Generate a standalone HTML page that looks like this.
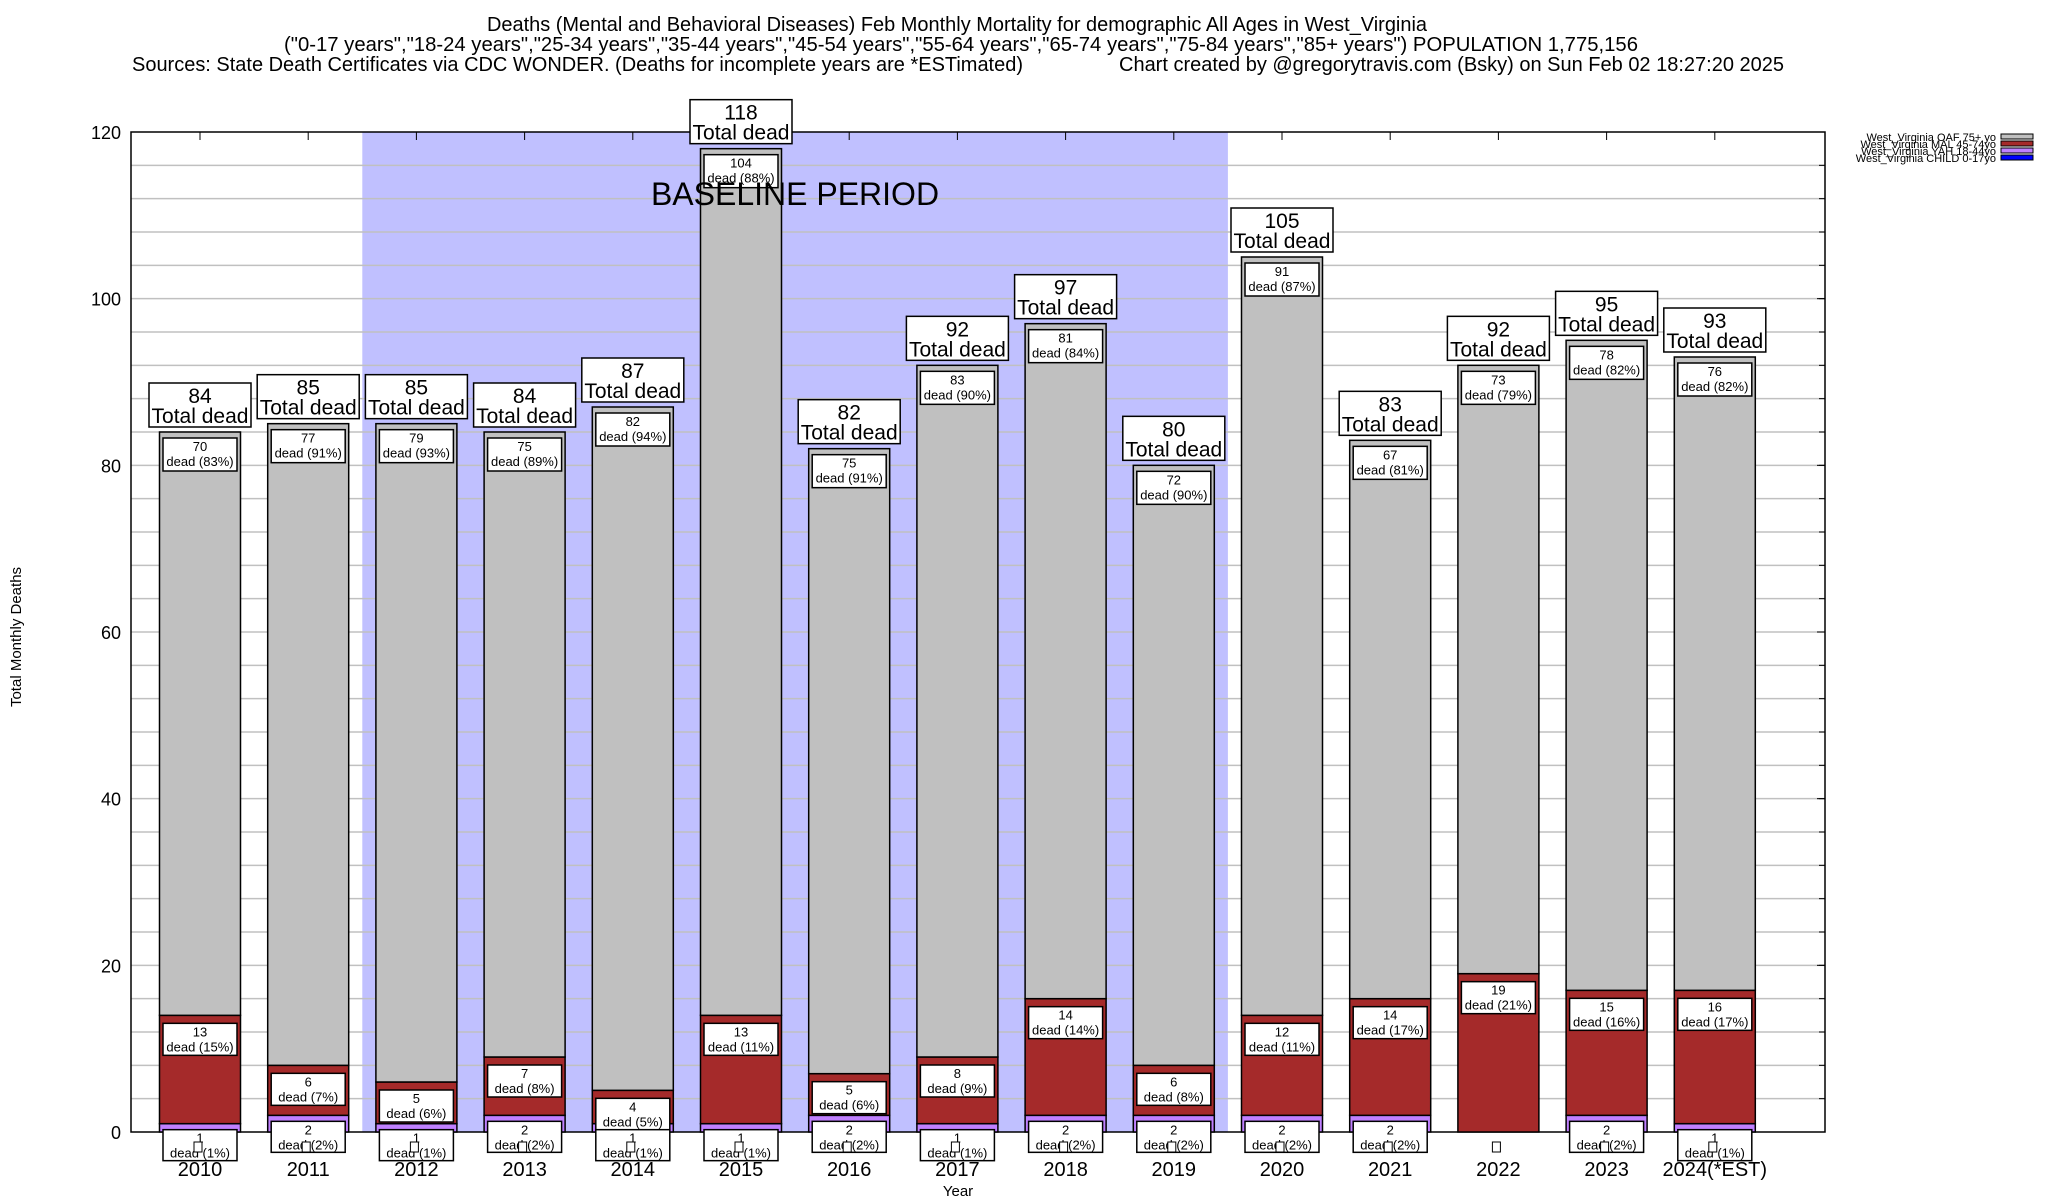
<!DOCTYPE html>
<html><head><meta charset="utf-8"><style>
html,body{margin:0;padding:0;background:#fff;}
svg{display:block;font-family:"Liberation Sans",sans-serif;}
</style></head><body>
<svg id="chart" width="2048" height="1200" viewBox="0 0 2048 1200" xmlns="http://www.w3.org/2000/svg">
<g font-size="20" text-anchor="middle">
<text x="957" y="31" textLength="940" lengthAdjust="spacingAndGlyphs">Deaths (Mental and Behavioral Diseases) Feb Monthly Mortality for demographic All Ages in West_Virginia</text>
<text x="961" y="51" textLength="1354" lengthAdjust="spacingAndGlyphs">("0-17 years","18-24 years","25-34 years","35-44 years","45-54 years","55-64 years","65-74 years","75-84 years","85+ years") POPULATION 1,775,156</text>
<text x="132" y="71" text-anchor="start" textLength="891" lengthAdjust="spacingAndGlyphs">Sources: State Death Certificates via CDC WONDER. (Deaths for incomplete years are *ESTimated)</text>
<text x="1119" y="71" text-anchor="start" textLength="665" lengthAdjust="spacingAndGlyphs">Chart created by @gregorytravis.com (Bsky) on Sun Feb 02 18:27:20 2025</text>
</g>
<g id="plot"></g>
<text transform="translate(21,637) rotate(-90)" font-size="15" text-anchor="middle">Total Monthly Deaths</text>
<text x="958" y="1196" font-size="15" text-anchor="middle">Year</text>
<g font-size="11" text-anchor="end">
<g><text x="1996" y="141">West_Virginia OAF 75+ yo</text><rect x="2001" y="134" width="32" height="5" fill="#c0c0c0" stroke="#000"/></g>
<g><text x="1996" y="148">West_Virginia MAL 45-74yo</text><rect x="2001" y="141" width="32" height="5" fill="#a52a2a" stroke="#000"/></g>
<g><text x="1996" y="155">West_Virginia YAH 18-44yo</text><rect x="2001" y="148" width="32" height="5" fill="#c080ff" stroke="#000"/></g>
<g><text x="1996" y="162">West_Virginia CHILD 0-17yo</text><rect x="2001" y="155" width="32" height="5" fill="#0000ff" stroke="#000"/></g>
</g>
</svg>
<script>
const years = ["2010","2011","2012","2013","2014","2015","2016","2017","2018","2019","2020","2021","2022","2023","2024(*EST)"];
const childVals = [0,0,0,0,0,0,0,0,0,0,0,0,0,0,0];
const yahVals = [1,2,1,2,1,1,2,1,2,2,2,2,0,2,1];
const malVals = [13,6,5,7,4,13,5,8,14,6,12,14,19,15,16];
const oafVals = [70,77,79,75,82,104,75,83,81,72,91,67,73,78,76];
const yTicks = [0,20,40,60,80,100,120];
const baselineRange = [1,9];

const NS="http://www.w3.org/2000/svg";
const g=document.getElementById('plot');
const L=131,R=1825,T=132,B=1132;
const yMax=120;
const y=v=>B-(v/yMax)*(B-T);
const step=108.2, x0=200;
const x=i=>x0+i*step;
const bw=81;
function el(tag,attrs,parent){const e=document.createElementNS(NS,tag);for(const k in attrs)e.setAttribute(k,attrs[k]);(parent||g).appendChild(e);return e;}
function txt(s,attrs,parent){const e=el('text',attrs,parent);e.textContent=s;return e;}
function roundEven(v){const f=Math.floor(v);const d=v-f;if(Math.abs(d-0.5)<1e-9)return (f%2===0)?f:f+1;return Math.round(v);}

const bs=el('rect',{x:x(baselineRange[0])+step/2,y:T,width:(baselineRange[1]-baselineRange[0])*step,height:B-T,fill:'#c0c0ff'});


for(let v=4;v<yMax;v+=4){
  const ln=el('line',{x1:L,x2:R,y1:y(v),y2:y(v),stroke:'#c0c0c0','stroke-width':1.5});
  
  
}
const fr=el('rect',{x:L,y:T,width:R-L,height:B-T,fill:'none',stroke:'#000','stroke-width':1.5});


yTicks.forEach(v=>{
  const t=txt(String(v),{x:L-10,y:y(v)+7,'font-size':18,'text-anchor':'end'});
  
  
  el('line',{x1:R-8,x2:R,y1:y(v),y2:y(v),stroke:'#000'});
});
for(let v=4;v<yMax;v+=4) el('line',{x1:R-6,x2:R,y1:y(v),y2:y(v),stroke:'#000'});

function labelBox(cx,top,w,h,lines,fs,gap,first,name){
  const gg=el('g',{});
  
  
  el('rect',{x:cx-w/2,y:top,width:w,height:h,fill:'#fff',stroke:'#000','stroke-width':1.5},gg);
  lines.forEach((s,k)=>txt(s,{x:cx,y:top+first+k*gap,'font-size':fs,'text-anchor':'middle'},gg));
}

years.forEach((yr,i)=>{
  const cx=x(i);
  el('line',{x1:cx,x2:cx,y1:T,y2:T+8,stroke:'#000'});
  const segs=[[childVals[i],'#0000ff','child'],[yahVals[i],'#c080ff','yah'],[malVals[i],'#a52a2a','mal'],[oafVals[i],'#c0c0c0','oaf']];
  let base=0;
  const total=childVals[i]+yahVals[i]+malVals[i]+oafVals[i];
  segs.forEach(([v,c,n])=>{
    if(v>0){
      const r=el('rect',{x:cx-bw/2,y:y(base+v),width:bw,height:y(base)-y(base+v),fill:c,stroke:'#000','stroke-width':1.5});
      
      
    }
    base+=v;
  });
  const top=y(total);
  const pct=v=>roundEven(v/total*100);
  labelBox(cx,top-49,102,44,[String(total),'Total dead'],21,20,20,'total-label-'+yr.slice(0,4));
  labelBox(cx,top+6,74,33,[String(oafVals[i]),'dead ('+pct(oafVals[i])+'%)'],13,15,13,'oaf-label-'+yr.slice(0,4));
  const malTop=y(childVals[i]+yahVals[i]+malVals[i]);
  labelBox(cx,malTop+8,74,32,[String(malVals[i]),'dead ('+pct(malVals[i])+'%)'],13,15,13,'mal-label-'+yr.slice(0,4));
  if(yahVals[i]>0){
    const yahTop=y(childVals[i]+yahVals[i]);
    labelBox(cx,yahTop+6,74,31,[String(yahVals[i]),'dead ('+pct(yahVals[i])+'%)'],13,15,13,'yah-label-'+yr.slice(0,4));
  }
  const sq=el('rect',{x:cx-6,y:1142,width:8,height:10,fill:'#fff',stroke:'#000'});
  
  
  const yl=txt(yr,{x:cx,y:1176,'font-size':20,'text-anchor':'middle'});
  
  
});
const bt=txt('BASELINE PERIOD',{x:795,y:205,'font-size':32,'text-anchor':'middle'});


</script>
</body></html>
